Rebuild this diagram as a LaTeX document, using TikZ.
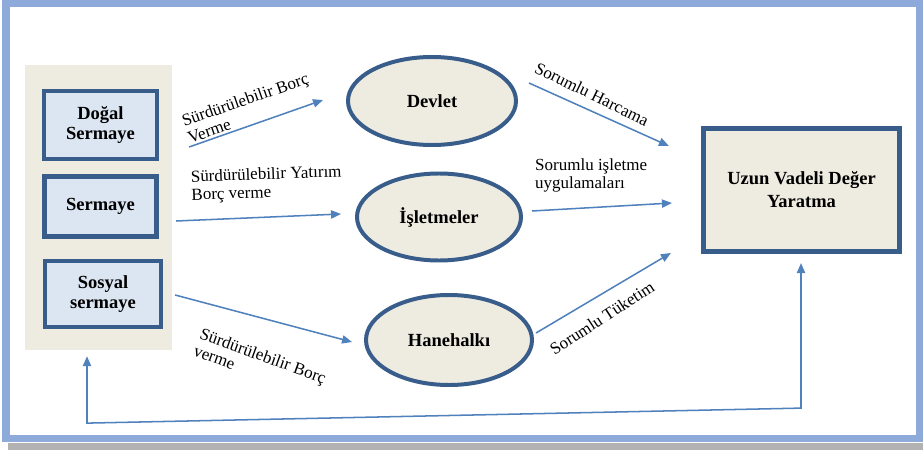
\documentclass[tikz,border=0pt]{standalone}
\usepackage{fontspec}
\setmainfont{Liberation Serif}
\usetikzlibrary{shapes.geometric,arrows.meta}
\definecolor{framebl}{HTML}{8EAADB}
\definecolor{edgebl}{HTML}{385D8A}
\definecolor{boxbl}{HTML}{DCE6F2}
\definecolor{panelbg}{HTML}{EEECE1}
\definecolor{arrbl}{HTML}{4F81BD}

\begin{document}
\begin{tikzpicture}[x=0.03cm,y=-0.03cm,
  capbox/.style={draw=edgebl,line width=3.6pt,fill=boxbl,inner sep=0pt,align=center,
    font=\fontsize{15.8}{17}\selectfont\bfseries},
  actor/.style={ellipse,draw=edgebl,line width=3.4pt,fill=panelbg,inner sep=0pt,
    font=\fontsize{15.8}{17}\selectfont\bfseries},
  lbl/.style={inner sep=0pt,font=\fontsize{14.5}{15.4}\selectfont},
  flow/.style={draw=arrbl,line width=1.3pt,-{Triangle[length=8.5pt,width=7pt]}}]
\useasboundingbox (0,0) rectangle (923,450);
\fill[black!30] (8,443) rectangle (923,450);
\draw[framebl,line width=6pt,fill=white] (6,3) rectangle (920,438.5);
\node[fill=panelbg,minimum width=147*0.03cm,minimum height=285*0.03cm,inner sep=0pt] (panel) at (98.5,207.5) {};
\node[capbox,minimum width=113*0.03cm,minimum height=68*0.03cm] (dogal) at (100.5,125) {Doğal\\Sermaye};
\node[capbox,minimum width=112*0.03cm,minimum height=60*0.03cm] (sermaye) at (100.5,206.5) {Sermaye};
\node[capbox,minimum width=116*0.03cm,minimum height=66*0.03cm] (sosyal) at (103,294) {Sosyal\\sermaye};
\node[actor,minimum width=168*0.03cm,minimum height=88*0.03cm] (devlet) at (432,101) {Devlet};
\node[actor,minimum width=164*0.03cm,minimum height=87*0.03cm] (isletme) at (439,217) {İşletmeler};
\node[actor,minimum width=166*0.03cm,minimum height=90*0.03cm] (hane) at (449,340) {Hanehalkı};
\node[capbox,fill=panelbg,minimum width=196*0.03cm,minimum height=123*0.03cm,
  font=\fontsize{15.8}{19.6}\selectfont\bfseries] (uzun) at (801.5,190) {Uzun Vadeli Değer\\Yaratma};

\draw[flow] ([shift={(30,22)}]dogal.east) -- ([shift={(-23,-1)}]devlet.west);
\draw[flow] ([shift={(17.5,14.5)}]sermaye.east) -- ([shift={(-14,-3)}]isletme.west);
\draw[flow] ([shift={(12,1)}]sosyal.east) -- ([shift={(-12,2)}]hane.west);
\draw[flow] ([shift={(11,-18)}]devlet.east) -- ([shift={(-32.5,-44)}]uzun.west);
\draw[flow] ([shift={(9,-6)}]isletme.east) -- ([shift={(-29.5,13)}]uzun.west);
\draw[flow] ([shift={(2,-7)}]hane.east) -- ([shift={(-30.5,63)}]uzun.west);
\draw[flow,{Triangle[length=8.5pt,width=7pt]}-{Triangle[length=8.5pt,width=7pt]}]
  ([shift={(-0.5,9.5)}]uzun.south) -- ++(0,145) -- ++(-714,15) -- ([shift={(-11.5,6)}]panel.south);

\node[lbl,rotate=19,align=left] (lblborc) at (248,108) {Sürdürülebilir Borç\\Verme};
\node[lbl,rotate=2,align=left,anchor=west] (lblyatirim) at (191,187) {Sürdürülebilir Yatırım\\Borç verme};
\node[lbl,rotate=-20,align=left] (lblverme) at (260,364) {Sürdürülebilir Borç\\verme};
\node[lbl,rotate=-26] (lblharcama) at (592,94) {Sorumlu Harcama};
\node[lbl,align=left,anchor=west] (lblisl) at (535,175) {Sorumlu işletme\\uygulamaları};
\node[lbl,rotate=33] (lbltuketim) at (602,318) {Sorumlu Tüketim};
\end{tikzpicture}
\end{document}
